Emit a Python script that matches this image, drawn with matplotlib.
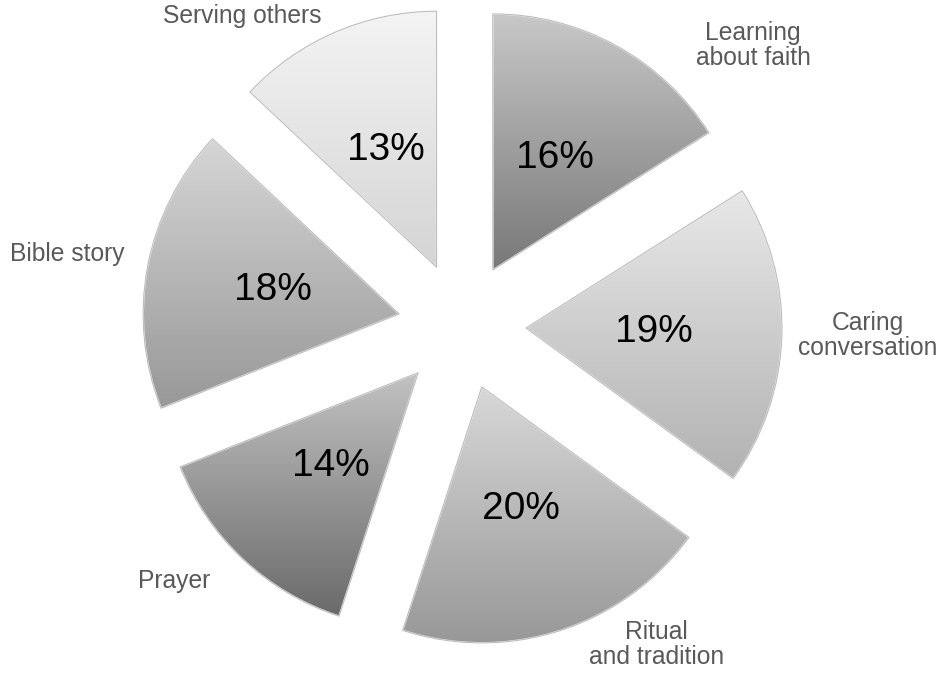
import matplotlib

matplotlib.use("Agg")
import matplotlib.pyplot as plt
import numpy as np
from matplotlib.colors import LinearSegmentedColormap
from matplotlib.patches import PathPatch

plt.rcParams["font.family"] = ["Liberation Sans", "DejaVu Sans"]

categories = ["Learning\nabout faith", "Caring\nconversation", "Ritual\nand tradition",
              "Prayer", "Bible story", "Serving others"]
shares = [16, 19, 20, 14, 18, 13]

# gradient (top, bottom) per slice
GRADIENTS = [("#c8c8c8", "#787878"), ("#e8e8e8", "#b2b2b2"), ("#d8d8d8", "#989898"),
             ("#c2c2c2", "#6a6a6a"), ("#d6d6d6", "#989898"), ("#f4f4f4", "#d4d4d4")]

# label anchor points in axes fraction (x, y)
LABEL_POS = [(0.798, 0.932), (0.919, 0.501), (0.695, 0.042),
             (0.184, 0.137), (0.071, 0.623), (0.257, 0.976)]

W, H = 944, 673
CENTER = (462, H - 326)
RADIUS = 256
EXPLODE = 64

fig = plt.figure(figsize=(W / 100, H / 100), dpi=100)
ax = fig.add_axes([0, 0, 1, 1])

wedges, _, pcts = ax.pie(
    shares, explode=[EXPLODE] * len(shares), center=CENTER, radius=RADIUS,
    startangle=90, counterclock=False, autopct="%1.0f%%", pctdistance=0.5,
    wedgeprops=dict(linewidth=1.2, edgecolor="#f2f2f2"),
    textprops=dict(fontsize=28, color="black"),
)

grad = np.linspace(1, 0, 256).reshape(-1, 1)
for w, (top, bottom) in zip(wedges, GRADIENTS):
    bb = w.get_path().get_extents()
    cmap = LinearSegmentedColormap.from_list("g", [bottom, top])
    im = ax.imshow(grad, cmap=cmap, extent=(bb.x0, bb.x1, bb.y0, bb.y1),
                   origin="upper", aspect="auto", zorder=w.get_zorder() - 0.1,
                   interpolation="bilinear")
    im.set_clip_path(w)
    w.set_facecolor("none")
    # thin darker outline for a slight bevel look
    ax.add_patch(PathPatch(w.get_path(), facecolor="none", edgecolor="#8a8a8a",
                           linewidth=0.6, alpha=0.6, zorder=w.get_zorder() + 0.05))

for t in pcts:
    t.set_zorder(5)

for lab, (x, y) in zip(categories, LABEL_POS):
    ax.text(x, y, lab, transform=ax.transAxes, ha="center", va="center",
            fontsize=17.7, color="#595959", linespacing=1.05)

ax.set_xlim(0, W)
ax.set_ylim(0, H)
ax.set_aspect("equal")
ax.axis("off")

fig.savefig("out.png", dpi=100, facecolor="white")
